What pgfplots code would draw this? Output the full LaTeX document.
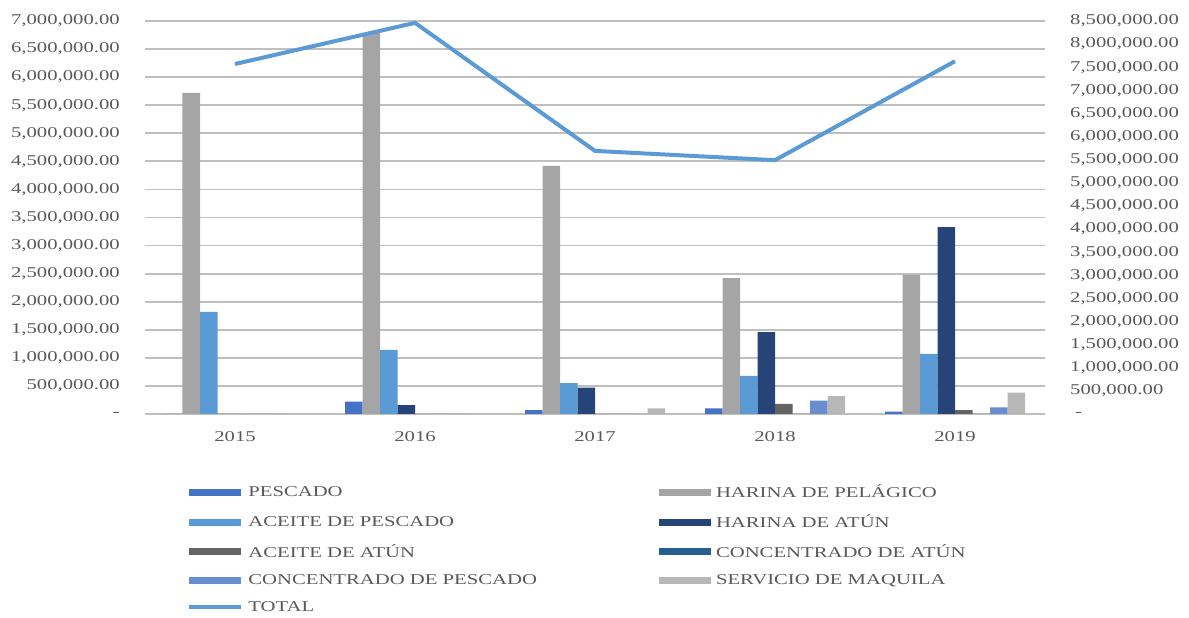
\documentclass[border=0pt]{standalone}
\usepackage{fontspec}
\setmainfont{Liberation Serif}[FakeStretch=1.38]
\usepackage{pgfplots}
\pgfplotsset{compat=1.18}

\definecolor{cPes}{HTML}{4472C4}
\definecolor{cHPel}{HTML}{A5A5A5}
\definecolor{cAPes}{HTML}{5B9BD5}
\definecolor{cHAtun}{HTML}{264478}
\definecolor{cAAtun}{HTML}{636363}
\definecolor{cCAtun}{HTML}{255E91}
\definecolor{cCPes}{HTML}{698ED0}
\definecolor{cServ}{HTML}{B7B7B7}
\definecolor{cTotal}{HTML}{5B9BD5}
\definecolor{txt}{HTML}{595959}
\definecolor{grid}{HTML}{D9D9D9}

\pgfplotsset{
    barleg/.style={legend image code/.code={\fill[##1] (0pt,-3.5pt) rectangle (52pt,3.5pt);}},
    lineleg/.style={legend image code/.code={\draw[##1] (0pt,0pt) -- (52pt,0pt);}},
}

\begin{document}
\begin{tikzpicture}[font=\fontsize{15}{18}\selectfont]
\begin{axis}[
    scale only axis,
    width=900pt, height=393pt,
    xmin=-0.5, xmax=4.5,
    ymin=0, ymax=7000000,
    ybar=0pt, bar width=17.5pt,
    scaled y ticks=false,
    xtick={0,1,2,3,4},
    xticklabels={2015,2016,2017,2018,2019},
    ytick={0,500000,1000000,1500000,2000000,2500000,3000000,3500000,4000000,4500000,5000000,5500000,6000000,6500000,7000000},
    yticklabels={{-\hspace{12pt}},{500,000.00},{1,000,000.00},{1,500,000.00},{2,000,000.00},{2,500,000.00},{3,000,000.00},{3,500,000.00},{4,000,000.00},{4,500,000.00},{5,000,000.00},{5,500,000.00},{6,000,000.00},{6,500,000.00},{7,000,000.00}},
    yticklabel style={anchor=east, inner sep=0pt, xshift=-25pt, text=txt},
    xticklabel style={inner sep=0pt, yshift=-17pt, text=txt},
    major tick length=0pt,
    tick style={draw=none},
    axis line style={draw=none},
    xmajorgrids=false,
    ymajorgrids, grid style={grid, line width=1.8pt},
    legend columns=2,
    barleg,
    legend style={at={(axis description cs:0.0435,-0.175)}, anchor=north west,
        draw=none, fill=none, text=txt, row sep=15.5pt,
        nodes={inner sep=0pt, anchor=west},
        /tikz/every odd column/.append style={column sep=5pt},
        /tikz/column 2/.style={column sep=122pt}},
    after end axis/.code={\path ([xshift=-145pt,yshift=-204pt]rel axis cs:0,0) rectangle ([xshift=144pt,yshift=21pt]rel axis cs:1,1);},
]
\addplot[fill=cPes, draw=none] coordinates {(0,0) (1,220000) (2,70000) (3,100000) (4,40000)};
\addlegendentry{PESCADO}
\addplot[fill=cHPel, draw=none] coordinates {(0,5720000) (1,6790000) (2,4420000) (3,2420000) (4,2480000)};
\addlegendentry{HARINA DE PELÁGICO}
\addplot[fill=cAPes, draw=none] coordinates {(0,1820000) (1,1140000) (2,550000) (3,680000) (4,1070000)};
\addlegendentry{ACEITE DE PESCADO}
\addplot[fill=cHAtun, draw=none] coordinates {(0,0) (1,160000) (2,470000) (3,1460000) (4,3330000)};
\addlegendentry{HARINA DE ATÚN}
\addplot[fill=cAAtun, draw=none] coordinates {(0,0) (1,0) (2,0) (3,180000) (4,70000)};
\addlegendentry{ACEITE DE ATÚN}
\addplot[fill=cCAtun, draw=none] coordinates {(0,0) (1,0) (2,0) (3,0) (4,0)};
\addlegendentry{CONCENTRADO DE ATÚN}
\addplot[fill=cCPes, draw=none] coordinates {(0,0) (1,0) (2,0) (3,240000) (4,120000)};
\addlegendentry{CONCENTRADO DE PESCADO}
\addplot[fill=cServ, draw=none] coordinates {(0,0) (1,0) (2,100000) (3,320000) (4,380000)};
\addlegendentry{SERVICIO DE MAQUILA}
\addlegendimage{lineleg, color=cTotal, line width=4pt}
\addlegendentry{TOTAL}
\end{axis}
\begin{axis}[
    scale only axis,
    width=900pt, height=393pt,
    xmin=-0.5, xmax=4.5,
    ymin=0, ymax=8500000,
    scaled y ticks=false,
    xtick=\empty,
    axis x line=none,
    axis y line*=right,
    axis line style={draw=none},
    major tick length=0pt,
    tick style={draw=none},
    ytick={0,500000,1000000,1500000,2000000,2500000,3000000,3500000,4000000,4500000,5000000,5500000,6000000,6500000,7000000,7500000,8000000,8500000},
    yticklabels={{\hspace{5pt}-},{500,000.00},{1,000,000.00},{1,500,000.00},{2,000,000.00},{2,500,000.00},{3,000,000.00},{3,500,000.00},{4,000,000.00},{4,500,000.00},{5,000,000.00},{5,500,000.00},{6,000,000.00},{6,500,000.00},{7,000,000.00},{7,500,000.00},{8,000,000.00},{8,500,000.00}},
    yticklabel style={anchor=west, inner sep=0pt, xshift=25pt, text=txt},
]
\addplot[color=cTotal, line width=4pt, mark=none] coordinates {(0,7570000) (1,8460000) (2,5690000) (3,5490000) (4,7630000)};
\end{axis}
\end{tikzpicture}
\end{document}
